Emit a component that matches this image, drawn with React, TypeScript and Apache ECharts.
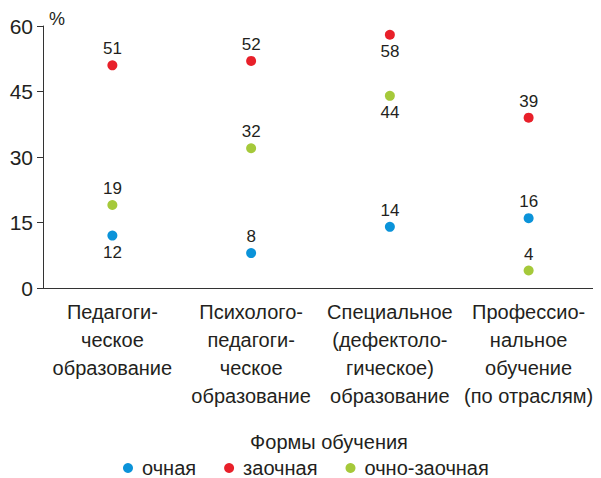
import React, { useEffect, useRef } from "react";
import * as echarts from "echarts";

const categories = [
  "Педагоги-\nческое\nобразование",
  "Психолого-\nпедагоги-\nческое\nобразование",
  "Специальное\n(дефектоло-\nгическое)\nобразование",
  "Профессио-\nнальное\nобучение\n(по отраслям)",
];
const ochnaya = [12, 8, 14, 16];
const zaochnaya = [51, 52, 58, 39];
const ochnoZaochnaya = [19, 32, 44, 4];
const yTicks = [0, 15, 30, 45, 60];

const ochnayaPos = ["bottom", "top", "top", "top"];
const zaochnayaPos = ["top", "top", "bottom", "top"];
const ochnoZaochnayaPos = ["top", "top", "bottom", "top"];

const FONT = "'Liberation Sans', Arial, Helvetica, sans-serif";
const TEXT = "#231f20";

export default function App() {
  const ref = useRef<HTMLDivElement>(null);
  useEffect(() => {
    if (!ref.current) return;
    const chart = echarts.init(ref.current, null, { renderer: "svg" });
    const mk = (name: string, vals: number[], pos: string[], color: string) => ({
      name,
      type: "scatter",
      symbol: "circle",
      symbolSize: 10,
      itemStyle: { color, opacity: 1 },
      emphasis: { disabled: true },
      data: vals.map((v, i) => ({
        value: v,
        label: { position: pos[i] },
      })),
      label: {
        show: true,
        fontSize: 17,
        fontFamily: FONT,
        color: TEXT,
        opacity: 1,
        distance: 3,
      },
    });
    chart.setOption({
      animation: false,
      textStyle: { fontFamily: FONT },
      title: {
        text: "Формы обучения",
        left: 324,
        textAlign: "center",
        top: 427,
        textStyle: { fontSize: 20, fontWeight: "normal", color: TEXT, fontFamily: FONT },
      },
      legend: {
        top: 453,
        left: 118,
        itemWidth: 10,
        itemHeight: 10,
        itemGap: 28,
        icon: "circle",
        textStyle: { fontSize: 20, color: TEXT, fontFamily: FONT, padding: [0, 0, 0, 4] },
        data: ["очная", "заочная", "очно-заочная"],
      },
      grid: { left: 43, right: 3, top: 26, bottom: 190, containLabel: false },
      xAxis: {
        type: "category",
        data: categories,
        boundaryGap: true,
        axisLine: { lineStyle: { color: "#333", width: 1 } },
        axisTick: { alignWithLabel: true, length: 5, lineStyle: { color: "#333" } },
        axisLabel: {
          fontSize: 20,
          color: TEXT,
          lineHeight: 28,
          margin: 10,
          interval: 0,
          fontFamily: FONT,
        },
      },
      yAxis: {
        type: "value",
        min: yTicks[0],
        max: yTicks[yTicks.length - 1],
        interval: 15,
        name: "%",
        nameLocation: "end",
        nameGap: -2,
        nameTextStyle: { fontSize: 18, color: TEXT, align: "left", padding: [0, 0, 0, 6], fontFamily: FONT },
        splitLine: { show: false },
        axisLine: { show: true, lineStyle: { color: "#333", width: 1 } },
        axisTick: { show: true, length: 6, inside: false, lineStyle: { color: "#333" } },
        axisLabel: { fontSize: 21, color: TEXT, margin: 10, fontFamily: FONT },
      },
      series: [
        mk("очная", ochnaya, ochnayaPos, "#0b93d9"),
        mk("заочная", zaochnaya, zaochnayaPos, "#e8202a"),
        mk("очно-заочная", ochnoZaochnaya, ochnoZaochnayaPos, "#a5c93a"),
      ],
    });
    return () => chart.dispose();
  }, []);
  return <div ref={ref} style={{ width: 601, height: 478, marginLeft: -8, marginTop: -8 }} />;
}
